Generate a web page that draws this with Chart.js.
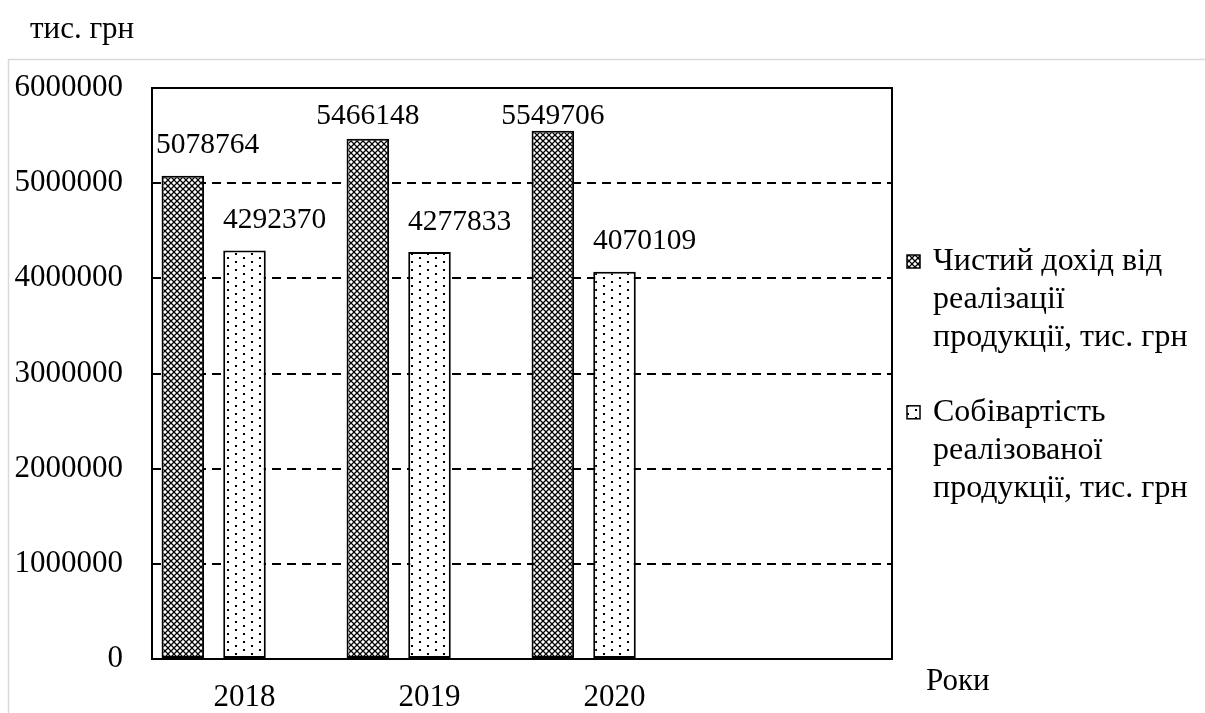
<!DOCTYPE html>
<html>
<head>
<meta charset="utf-8">
<script src="https://cdn.jsdelivr.net/npm/chart.js@4.4.1/dist/chart.umd.min.js"></script>
<style>
  html, body { margin: 0; padding: 0; background: #fff; }
  #wrap { position: relative; width: 1205px; height: 713px; }
</style>
</head>
<body>
<div id="wrap"><canvas id="chart" width="1205" height="713"></canvas></div>
<script>
// --- data ---
const categories = ['2018', '2019', '2020', ''];
const revenue = [5078764, 5466148, 5549706, null];
const cost    = [4292370, 4277833, 4070109, null];
const seriesNames = [
  'Чистий дохід від реалізації продукції, тис. грн',
  'Собівартість реалізованої продукції, тис. грн'
];
const yUnit = 'тис. грн';
const xUnit = 'Роки';

const FONT = '"Liberation Serif", "Times New Roman", serif';

// fill patterns
function hatchPattern(ctx) {
  const c = document.createElement('canvas');
  c.width = 6; c.height = 6;
  const g = c.getContext('2d');
  g.fillStyle = '#fff'; g.fillRect(0, 0, 6, 6);
  g.strokeStyle = '#000'; g.lineWidth = 1.25;
  g.beginPath();
  g.moveTo(-1, -1); g.lineTo(7, 7);
  g.moveTo(7, -1); g.lineTo(-1, 7);
  g.stroke();
  return ctx.createPattern(c, 'repeat');
}
function dotPattern(ctx) {
  const c = document.createElement('canvas');
  c.width = 16; c.height = 8;
  const g = c.getContext('2d');
  g.fillStyle = '#fff'; g.fillRect(0, 0, 16, 8);
  g.fillStyle = '#000';
  g.fillRect(3, 1, 2, 2);
  g.fillRect(11, 5, 2, 2);
  return ctx.createPattern(c, 'repeat');
}

const canvas = document.getElementById('chart');
const ctx0 = canvas.getContext('2d');
const patA = hatchPattern(ctx0);
const patB = dotPattern(ctx0);

// frame, plot border, value labels, legend, unit texts
const decor = {
  id: 'decor',
  beforeDraw(chart) {
    const c = chart.ctx;
    c.save();
    c.strokeStyle = '#d9d9d9'; c.lineWidth = 1.5;
    c.beginPath();
    c.moveTo(8.5, 713); c.lineTo(8.5, 59.5); c.lineTo(1205, 59.5);
    c.stroke();
    c.restore();
  },
  afterDatasetsDraw(chart) {
    const c = chart.ctx, a = chart.chartArea;
    c.save();
    c.strokeStyle = '#000'; c.lineWidth = 2;
    c.strokeRect(a.left, a.top, a.right - a.left, a.bottom - a.top);

    // value labels
    c.font = '29.5px ' + FONT;
    c.fillStyle = '#000';
    c.textBaseline = 'middle';
    [0, 1].forEach(di => {
      const meta = chart.getDatasetMeta(di);
      meta.data.forEach((bar, i) => {
        const v = chart.data.datasets[di].data[i];
        if (v == null) return;
        const txt = String(v);
        const w = c.measureText(txt).width;
        let cx = di === 0 ? bar.x : bar.x + 30;
        let left = cx - w / 2;
        if (left < a.left + 4) left = a.left + 4;
        let cy = Math.max(bar.y - 30, a.top + 28);
        c.textAlign = 'left';
        c.fillText(txt, left, cy);
      });
    });

    // unit labels
    c.font = '31px ' + FONT;
    c.textAlign = 'left';
    c.fillText(yUnit, 30, 30);
    c.font = '31px ' + FONT;
    c.textBaseline = 'alphabetic';
    c.fillText(xUnit, 926, 690);

    // legend
    c.font = '32px ' + FONT;
    c.textBaseline = 'middle';
    const pats = [patA, patB];
    const lineH = 37.7;
    let y = 262;
    seriesNames.forEach((name, k) => {
      // wrap words
      const words = name.split(' ');
      const lines = [];
      let cur = '';
      words.forEach(wd => {
        const t = cur ? cur + ' ' + wd : wd;
        if (c.measureText(t).width > 262 && cur) { lines.push(cur); cur = wd; }
        else cur = t;
      });
      lines.push(cur);
      c.fillStyle = pats[k];
      c.fillRect(907, y - 7, 13, 13);
      c.strokeStyle = '#000'; c.lineWidth = 1.5;
      c.strokeRect(907, y - 7, 13, 13);
      c.fillStyle = '#000';
      lines.forEach((ln, j) => c.fillText(ln, 933, y + j * lineH));
      y += (lines.length + 1) * lineH;
    });
    c.restore();
  }
};

new Chart(canvas, {
  type: 'bar',
  data: {
    labels: categories,
    datasets: [
      { label: seriesNames[0], data: revenue, backgroundColor: patA,
        borderColor: '#000', borderWidth: 2, borderSkipped: false },
      { label: seriesNames[1], data: cost, backgroundColor: patB,
        borderColor: '#000', borderWidth: 2, borderSkipped: false },
      { label: '', data: [null, null, null, null] }
    ]
  },
  options: {
    responsive: false, animation: false, devicePixelRatio: 1,
    layout: { padding: { top: 88, right: 313, left: 0, bottom: 0 } },
    datasets: { bar: { barPercentage: 0.69, categoryPercentage: 1 } },
    plugins: { legend: { display: false }, tooltip: { enabled: false } },
    scales: {
      x: {
        grid: { display: false, drawTicks: false },
        border: { display: false },
        ticks: { color: '#000', font: { family: FONT, size: 31 }, padding: 20 },
        afterFit: s => { s.height = 54; }
      },
      y: {
        min: 0, max: 6000000,
        grid: { color: '#000', lineWidth: 2, drawTicks: false },
        border: { display: false, dash: [9, 6] },
        ticks: { stepSize: 1000000, color: '#000', padding: 29,
                 font: { family: FONT, size: 31 }, callback: v => String(v) },
        afterFit: s => { s.width = 152; }
      }
    }
  },
  plugins: [decor]
});
</script>
</body>
</html>
